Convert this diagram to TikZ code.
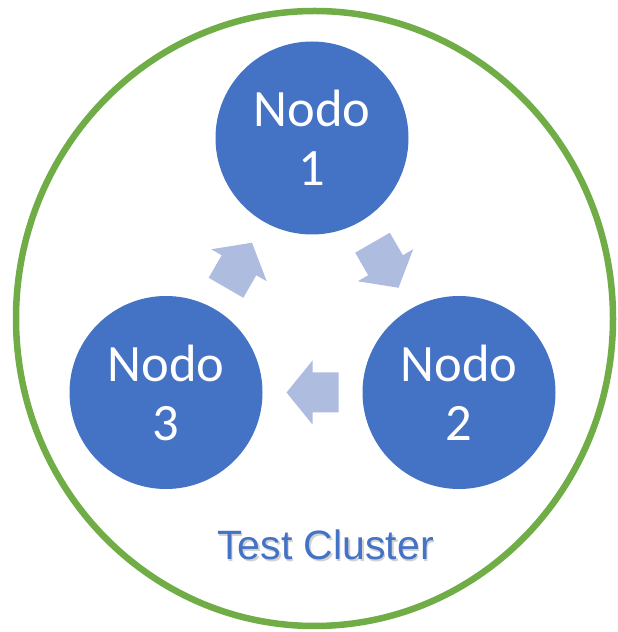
\documentclass[tikz,border=0pt]{standalone}
\usepackage{fontspec}
\newfontfamily\nodefont{Carlito}
\newfontfamily\labelfont{Liberation Sans}
\usetikzlibrary{calc}
\definecolor{nodeblue}{HTML}{4472C4}
\definecolor{arrowblue}{HTML}{AEBCDF}
\definecolor{ringgreen}{HTML}{70AD47}
\tikzset{
  member/.style={circle, fill=nodeblue, minimum size=193pt, inner sep=0pt,
    text=white, align=center, font=\nodefont\fontsize{52.5}{59}\selectfont},
  pics/blockarrow/.style={code={
    \fill[arrowblue] (-26,-20) -- (0,-20) -- (0,-32) -- (26,0) -- (0,32)
      -- (0,20) -- (-26,20) -- cycle;}},
  clustername/.style={anchor=base, font=\labelfont\fontsize{41}{48}\selectfont},
}
\begin{document}
\begin{tikzpicture}[x=1pt, y=1pt]
  \useasboundingbox (0,0) rectangle (618,632);
  % cluster boundary
  \draw[ringgreen, line width=6.5pt] (314.5,313.5) ellipse [x radius=298.5, y radius=307.5];
  % cluster members
  \node[member] (n1) at (312,494) {Nodo\\1};
  \node[member] (n2) at (459,239.5) {Nodo\\2};
  \node[member] (n3) at (166,239.5) {Nodo\\3};
  % replication ring
  \pic[rotate=-60] at ($(n1)!0.5!(n2)$) {blockarrow};
  \pic[rotate=180] at ($(n2)!0.5!(n3)$) {blockarrow};
  \pic[rotate=60]  at ($(n3)!0.5!(n1)$) {blockarrow};
  % cluster name with a soft drop shadow
  \node[clustername, text=black, opacity=0.18] (nameshadow) at (327,70.5) {Test Cluster};
  \node[clustername, text=nodeblue] (name) at (325.5,72) {Test Cluster};
\end{tikzpicture}
\end{document}
